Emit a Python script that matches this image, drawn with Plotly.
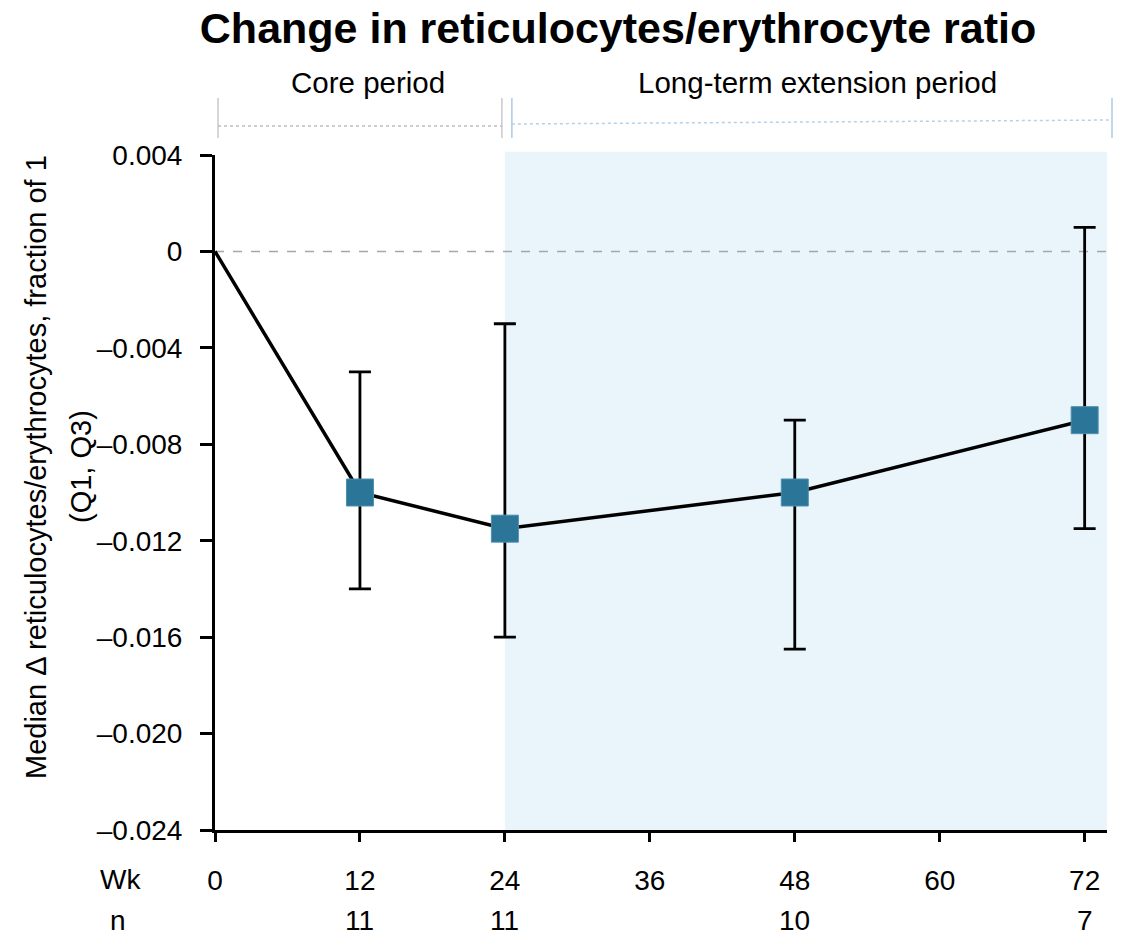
import plotly.graph_objects as go

# ---- data ----
weeks = [0, 12, 24, 48, 72]
median = [0.0, -0.010, -0.0115, -0.010, -0.007]
q1 = [None, -0.014, -0.016, -0.0165, -0.0115]
q3 = [None, -0.005, -0.003, -0.007, 0.001]
n_weeks = [12, 24, 48, 72]
n_values = ["11", "11", "10", "7"]
x_ticks = [0, 12, 24, 36, 48, 60, 72]
y_ticks = [0.004, 0.0, -0.004, -0.008, -0.012, -0.016, -0.020, -0.024]
y_ticktext = ["0.004", "0", "\u20130.004", "\u20130.008", "\u20130.012",
              "\u20130.016", "\u20130.020", "\u20130.024"]
core_period = [0, 24]
ext_start = 24

FONT = "Liberation Sans, Arial, sans-serif"
MARK = "#2A7598"

X_MAX = 73.85
W, H = 1123, 944
L, R, T, B = 215, 16, 155, 114
PW = W - L - R
PH = H - T - B

def px_x(px):
    return (px - L) / PW

def px_y(py):
    return (H - B - py) / PH

def dx(v):
    return v / X_MAX

fig = go.Figure()

# connecting line (includes baseline)
fig.add_trace(go.Scatter(
    x=weeks, y=median, mode="lines",
    line=dict(color="black", width=3.5), hoverinfo="skip", showlegend=False))

# markers with IQR error bars
mx = weeks[1:]
my = median[1:]
err_plus = [b - m for b, m in zip(q3[1:], my)]
err_minus = [m - a for a, m in zip(q1[1:], my)]
fig.add_trace(go.Scatter(
    x=mx, y=my, mode="markers",
    marker=dict(symbol="square", size=27, color=MARK,
                line=dict(color="#4f8fb0", width=1)),
    error_y=dict(type="data", symmetric=False, array=err_plus,
                 arrayminus=err_minus, color="black", thickness=2.8, width=11),
    showlegend=False))

shapes = []
# shaded extension period
shapes.append(dict(type="rect", xref="x", yref="paper", x0=ext_start, x1=X_MAX,
                   y0=0, y1=1.005, fillcolor="#EAF4FB", line=dict(width=0),
                   layer="below"))
# zero reference line
shapes.append(dict(type="line", xref="paper", yref="y", x0=0, x1=1, y0=0, y1=0,
                   line=dict(color="#A6A6A6", width=1.5, dash="dash"),
                   layer="below"))

# period brackets above the plot
gy0, gy1 = px_y(138), px_y(98)
lx0 = dx(core_period[0]) + px_x(218) - px_x(215)
lx1 = dx(core_period[1]) - 3 / PW
for xx in (lx0, lx1):
    shapes.append(dict(type="line", xref="paper", yref="paper", x0=xx, x1=xx,
                       y0=gy0, y1=gy1, line=dict(color="#C9C9C9", width=1.5)))
shapes.append(dict(type="line", xref="paper", yref="paper", x0=lx0, x1=lx1,
                   y0=px_y(126), y1=px_y(126),
                   line=dict(color="#BDBDBD", width=1.5, dash="dot")))
bx0 = dx(ext_start) + 7 / PW
bx1 = px_x(1112)
for xx in (bx0, bx1):
    shapes.append(dict(type="line", xref="paper", yref="paper", x0=xx, x1=xx,
                       y0=gy0, y1=gy1, line=dict(color="#A9CBE6", width=1.5)))
shapes.append(dict(type="line", xref="paper", yref="paper", x0=bx0, x1=bx1,
                   y0=px_y(124), y1=px_y(120),
                   line=dict(color="#B3D2EC", width=1.5, dash="dot")))

annotations = [
    dict(text="Core period", xref="paper", yref="paper",
         x=(lx0 + lx1) / 2 + 8 / PW, y=px_y(83), showarrow=False,
         font=dict(size=29.5, color="black", family=FONT), xanchor="center", yanchor="middle"),
    dict(text="Long-term extension period", xref="paper", yref="paper",
         x=(bx0 + bx1) / 2 + 6 / PW, y=px_y(83), showarrow=False,
         font=dict(size=29.5, color="black", family=FONT), xanchor="center", yanchor="middle"),
    dict(text="Median \u0394 reticulocytes/erythrocytes, fraction of 1", xref="paper", yref="paper",
         x=px_x(36), y=px_y(467), textangle=-90, showarrow=False,
         font=dict(size=29, color="black", family=FONT), xanchor="center", yanchor="middle"),
    dict(text="(Q1, Q3)", xref="paper", yref="paper",
         x=px_x(81), y=px_y(467), textangle=-90, showarrow=False,
         font=dict(size=29, color="black", family=FONT), xanchor="center", yanchor="middle"),
    dict(text="Wk", xref="paper", yref="paper", x=px_x(120), y=px_y(880),
         showarrow=False, font=dict(size=28, color="black", family=FONT),
         xanchor="center", yanchor="middle"),
    dict(text="n", xref="paper", yref="paper", x=px_x(118), y=px_y(921),
         showarrow=False, font=dict(size=28, color="black", family=FONT),
         xanchor="center", yanchor="middle"),
]
for wk, nv in zip(n_weeks, n_values):
    annotations.append(dict(text=nv, xref="x", yref="paper", x=wk, y=px_y(921),
                            showarrow=False, font=dict(size=28, color="black", family=FONT),
                            xanchor="center", yanchor="middle"))

fig.update_layout(
    width=W, height=H,
    margin=dict(l=L, r=R, t=T, b=B, pad=0),
    paper_bgcolor="white", plot_bgcolor="rgba(0,0,0,0)",
    font=dict(family=FONT, color="black", size=28),
    title=dict(text="<b>Change in reticulocytes/erythrocyte ratio</b>",
               x=(618) / W, xanchor="center", y=1 - 28 / H, yanchor="middle",
               font=dict(size=43, family=FONT, color="black")),
    shapes=shapes, annotations=annotations,
    xaxis=dict(range=[0, X_MAX], tickvals=x_ticks, ticktext=[str(v) for v in x_ticks],
               showgrid=False, zeroline=False, showline=True, linecolor="black",
               linewidth=3, ticks="outside", ticklen=9, tickwidth=3, tickcolor="black",
               tickfont=dict(size=28, family=FONT), ticklabelstandoff=14),
    yaxis=dict(range=[-0.024, 0.004], tickvals=y_ticks, ticktext=y_ticktext,
               showgrid=False, zeroline=False, showline=True, linecolor="black",
               linewidth=3, ticks="outside", ticklen=12, tickwidth=3, tickcolor="black",
               tickfont=dict(size=28, family=FONT), ticklabelstandoff=12),
)

fig.write_html("out.html")
